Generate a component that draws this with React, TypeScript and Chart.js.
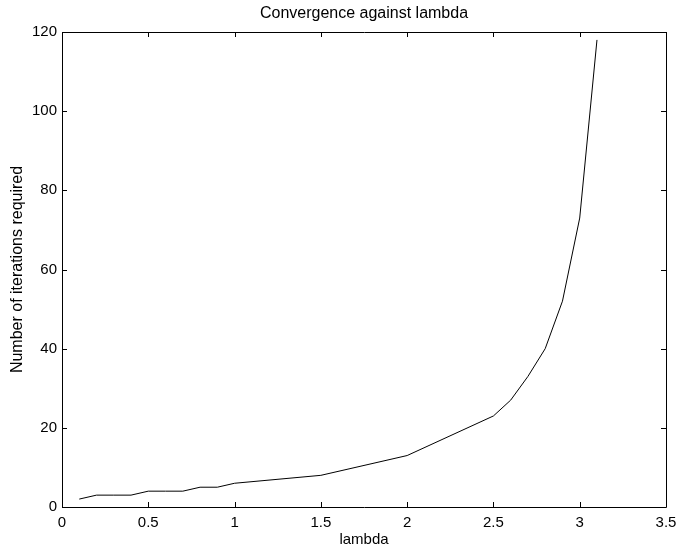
import React, { useEffect, useRef } from "react";
import { Chart, registerables } from "chart.js";

Chart.register(...registerables);

const lambdaValues = [0.1, 0.2, 0.3, 0.4, 0.5, 0.6, 0.7, 0.8, 0.9, 1.0, 1.5, 2.0, 2.5, 2.6, 2.7, 2.8, 2.9, 3.0, 3.1];
const iterationValues = [2, 3, 3, 3, 4, 4, 4, 5, 5, 6, 8, 13, 23, 27, 33, 40, 52, 73, 118];
const xTicks = [0, 0.5, 1, 1.5, 2, 2.5, 3, 3.5];
const yTicks = [0, 20, 40, 60, 80, 100, 120];

const titleText = "Convergence against lambda";
const xLabel = "lambda";
const yLabel = "Number of iterations required";

const FONT = "Liberation Sans, Arial, Helvetica, sans-serif";

const framePlugin = {
  id: "matlabFrame",
  afterDraw(chart: any) {
    const { ctx, chartArea } = chart;
    const { left, right, top, bottom } = chartArea;
    const xs = chart.scales.x;
    const ys = chart.scales.y;
    const len = 5;
    ctx.save();
    ctx.strokeStyle = "#000";
    ctx.lineWidth = 1;
    ctx.beginPath();
    ctx.rect(Math.round(left) + 0.5, Math.round(top) + 0.5, Math.round(right - left), Math.round(bottom - top));
    ctx.stroke();
    ctx.beginPath();
    xTicks.forEach((v) => {
      const px = Math.round(xs.getPixelForValue(v)) + 0.5;
      ctx.moveTo(px, bottom);
      ctx.lineTo(px, bottom - len);
      ctx.moveTo(px, top);
      ctx.lineTo(px, top + len);
    });
    yTicks.forEach((v) => {
      const py = Math.round(ys.getPixelForValue(v)) + 0.5;
      ctx.moveTo(left, py);
      ctx.lineTo(left + len, py);
      ctx.moveTo(right, py);
      ctx.lineTo(right - len, py);
    });
    ctx.stroke();
    ctx.restore();
  },
};

export default function App() {
  const ref = useRef<HTMLCanvasElement>(null);
  useEffect(() => {
    if (!ref.current) return;
    const chart = new Chart(ref.current, {
      type: "line",
      data: {
        datasets: [
          {
            data: lambdaValues.map((x, i) => ({ x, y: iterationValues[i] })),
            borderColor: "#000",
            borderWidth: 1,
            pointRadius: 0,
            fill: false,
            tension: 0,
          },
        ],
      },
      options: {
        responsive: false,
        animation: false,
        devicePixelRatio: 1,
        layout: { padding: { left: 0, right: 11, top: 0, bottom: 0 } },
        plugins: { legend: { display: false }, tooltip: { enabled: false }, title: { display: false } },
        scales: {
          x: {
            type: "linear",
            position: "bottom",
            min: 0,
            max: 3.5,
            afterBuildTicks: (s: any) => {
              s.ticks = xTicks.map((v) => ({ value: v }));
            },
            afterFit: (s: any) => {
              s.height = 43;
              s.paddingLeft = 0;
              s.paddingRight = 0;
            },
            grid: { display: false, drawTicks: false },
            border: { display: false },
            ticks: {
              color: "#000",
              font: { family: FONT, size: 15 },
              padding: 7,
              maxRotation: 0,
              autoSkip: false,
              callback: (v: any) => String(v),
            },
            title: { display: true, text: xLabel, color: "#000", font: { family: FONT, size: 15 }, padding: { top: 0, bottom: 1 } },
          },
          x2: {
            type: "linear",
            position: "top",
            min: 0,
            max: 3.5,
            afterFit: (s: any) => {
              s.height = 32;
              s.paddingLeft = 0;
              s.paddingRight = 0;
            },
            grid: { display: false, drawTicks: false },
            border: { display: false },
            ticks: { display: false },
            title: { display: true, text: titleText, color: "#000", font: { family: FONT, size: 16 }, padding: { top: 4, bottom: 0 } },
          },
          y: {
            type: "linear",
            min: 0,
            max: 120,
            afterBuildTicks: (s: any) => {
              s.ticks = yTicks.map((v) => ({ value: v }));
            },
            afterFit: (s: any) => {
              s.width = 62;
            },
            grid: { display: false, drawTicks: false },
            border: { display: false },
            ticks: { color: "#000", font: { family: FONT, size: 15 }, padding: 5, callback: (v: any) => String(v) },
            title: { display: true, text: yLabel, color: "#000", font: { family: FONT, size: 16 }, padding: { top: 8, bottom: 0 } },
          },
        },
      },
      plugins: [framePlugin],
    } as any);
    return () => chart.destroy();
  }, []);
  return (
    <div style={{ position: "fixed", left: 0, top: 0, width: 677, height: 550, background: "#fff" }}>
      <canvas ref={ref} width={677} height={550} />
    </div>
  );
}
